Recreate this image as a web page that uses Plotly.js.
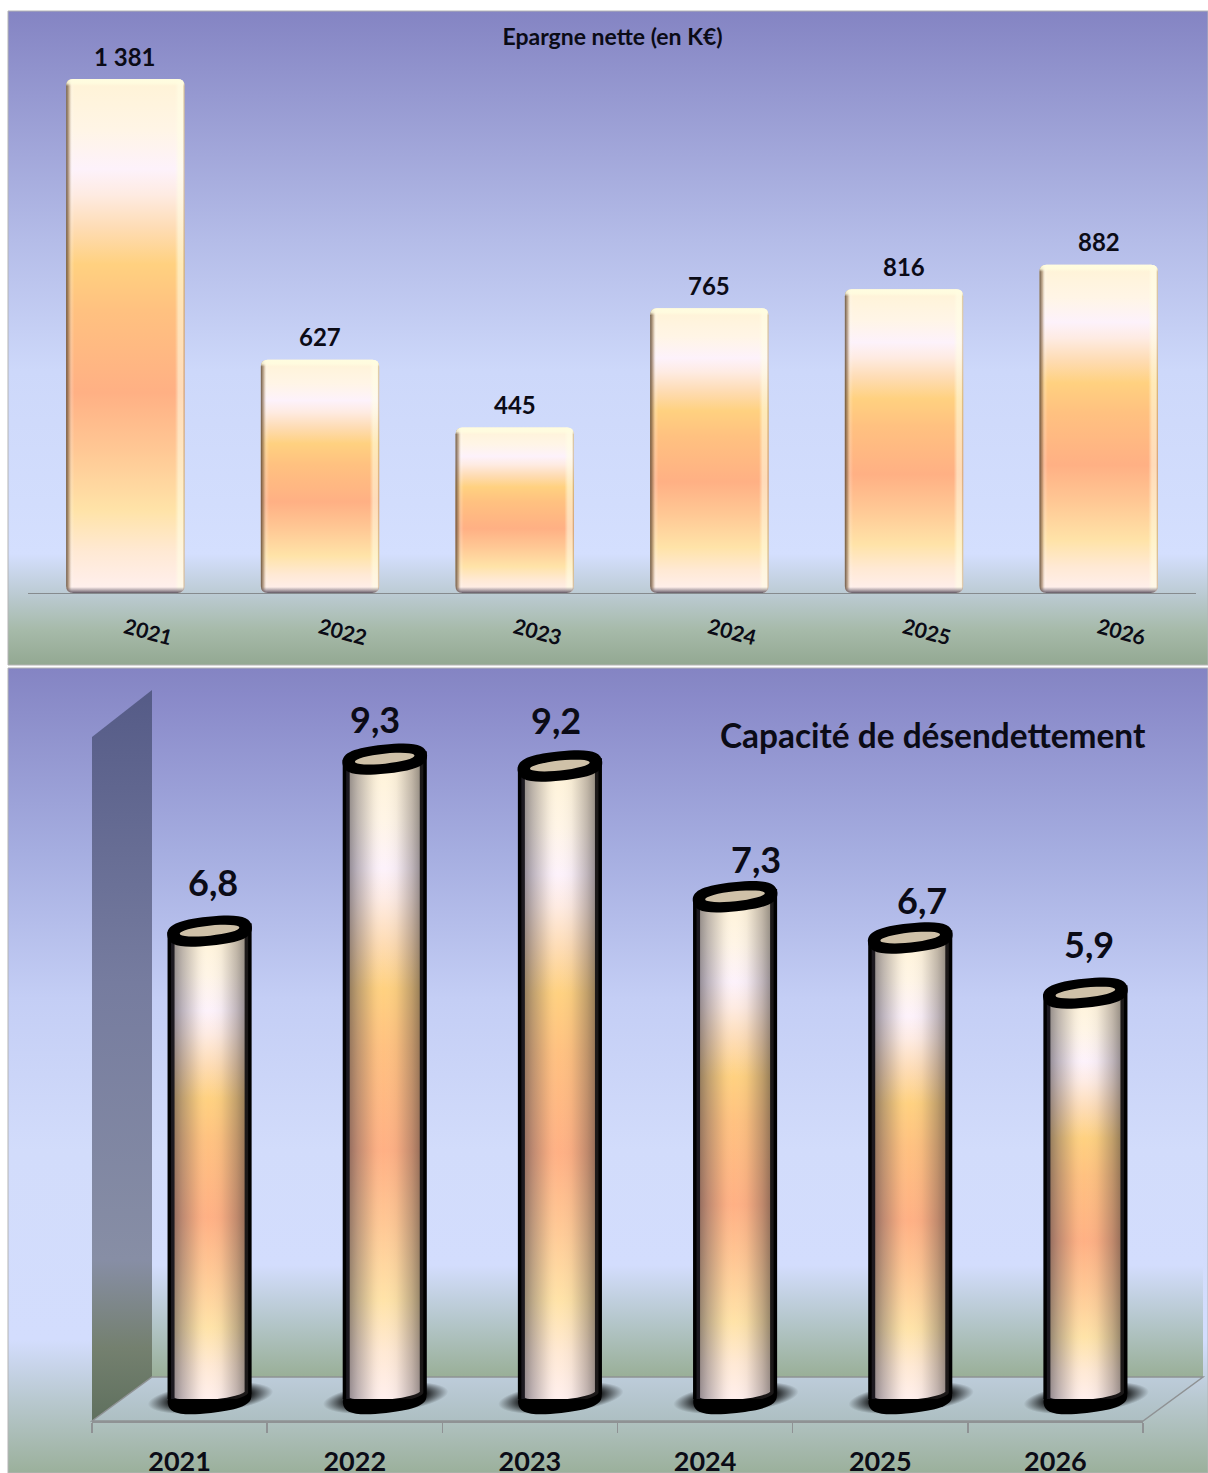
<!DOCTYPE html>
<html lang="fr">
<head>
<meta charset="utf-8">
<title>Epargne nette et capacité de désendettement</title>
<script src="https://cdn.plot.ly/plotly-3.0.1.min.js"></script>
<style>
  html, body { margin: 0; padding: 0; background: #fff; overflow: hidden; }
  #chart { width: 1208px; height: 1473px; }
</style>
</head>
<body>
<div id="chart"></div>
<script>
// Chart data
const years = ['2021', '2022', '2023', '2024', '2025', '2026'];
const epargneNette = [1381, 627, 445, 765, 816, 882];
const capaciteDesendettement = [6.8, 9.3, 9.2, 7.3, 6.7, 5.9];
const titreEpargne = 'Epargne nette (en K€)';
const titreCapacite = 'Capacité de désendettement';

// Hand placement of the cylinder labels, in pixels from the top of each cylinder
const capaciteLabelDx = [3, -10, -4, 21, 12, 4];
const capaciteLabelDy = [48, 39, 45, 37, 37, 48];

const W = 1208, H = 1473;
const fx = px => px / W;
const fy = px => 1 - px / H;
const FONT = 'Lato, Carlito, sans-serif';
const INK = '#0b0b16';
const poly = pts => pts.map((p, i) => (i ? 'L' : 'M') + fx(p[0]) + ',' + fy(p[1])).join(' ') + ' Z';
const paperShape = (pts, line) => ({
  type: 'path', xref: 'paper', yref: 'paper', layer: 'below', path: poly(pts),
  fillcolor: '#cccccc', line: line || { width: 0 }
});

// Panels, back wall, side wall and floor of the lower chart
const shapes = [
  paperShape([[8, 11], [1208, 11], [1208, 665], [8, 665]], { color: '#b4b4b4', width: 1 }),
  paperShape([[8, 668], [1208, 668], [1208, 1473], [8, 1473]], { color: '#b4b4b4', width: 1 }),
  paperShape([[152, 690], [1203, 690], [1203, 1377], [152, 1377]]),
  paperShape([[92, 737], [152, 690], [152, 1377], [92, 1421]]),
  paperShape([[92, 1421], [152, 1377], [1203, 1377], [1143, 1421]], { color: '#8f9294', width: 1.5 })
];
const shapeFills = ['bgTop', 'bgBottom', 'bgWall', 'bgSide', 'bgFloor'];

const traces = [
  {
    type: 'bar', x: years, y: epargneNette, width: 0.608, xaxis: 'x', yaxis: 'y',
    marker: { color: '#ffd180', line: { width: 0 } }, hoverinfo: 'skip', cliponaxis: false
  },
  // Carries the tick labels of the floor's front edge
  {
    type: 'scatter', mode: 'none', x: years, y: capaciteDesendettement.map(() => 0),
    xaxis: 'x2', yaxis: 'y2', hoverinfo: 'skip'
  },
  {
    type: 'bar', x: years, y: capaciteDesendettement, width: 0.44, xaxis: 'x3', yaxis: 'y3',
    marker: { color: '#ffd180', line: { color: '#000', width: 7 } }, hoverinfo: 'skip', cliponaxis: false
  }
];

const frNumber = v => String(v).replace(/\B(?=(\d{3})+$)/g, ' ');

const annotations = [];
years.forEach((yr, i) => {
  annotations.push({
    xref: 'x', yref: 'y', x: i, y: epargneNette[i], text: frNumber(epargneNette[i]),
    showarrow: false, yanchor: 'middle', yshift: 23,
    font: { family: FONT, size: 24, weight: 700, color: INK }
  });
  annotations.push({
    xref: 'x3', yref: 'y3', x: i, y: capaciteDesendettement[i],
    text: String(capaciteDesendettement[i]).replace('.', ','),
    showarrow: false, yanchor: 'middle', xshift: capaciteLabelDx[i], yshift: capaciteLabelDy[i] + 1,
    font: { family: FONT, size: 36, weight: 700, color: INK }
  });
});
annotations.push({
  xref: 'paper', yref: 'paper', x: fx(933), y: fy(735), text: titreCapacite, showarrow: false,
  xanchor: 'center', yanchor: 'middle', font: { family: FONT, size: 33.4, weight: 700, color: INK }
});

const layout = {
  width: W, height: H,
  margin: { l: 0, r: 0, t: 0, b: 0, pad: 0 },
  paper_bgcolor: '#ffffff', plot_bgcolor: 'rgba(0,0,0,0)',
  showlegend: false, hovermode: false, barmode: 'overlay',
  title: {
    text: titreEpargne, x: fx(612.5), y: fy(37), xanchor: 'center', yanchor: 'middle',
    xref: 'paper', yref: 'paper', font: { family: FONT, size: 23, weight: 700, color: INK }
  },
  xaxis: {
    type: 'category', domain: [fx(28), fx(1196)], range: [-0.5, 5.5], anchor: 'y',
    showline: true, linecolor: '#868b8e', linewidth: 1, showgrid: false, zeroline: false,
    ticks: '', tickangle: 15, ticklabelstandoff: 14,
    tickfont: { family: FONT, size: 21, weight: 700, color: INK }
  },
  yaxis: {
    domain: [fy(593), fy(11)], range: [0, 1564], anchor: 'x', visible: false, fixedrange: true
  },
  xaxis2: {
    type: 'category', domain: [fx(92), fx(1143)], range: [-0.5, 5.5], anchor: 'y2',
    showline: true, linecolor: '#8f9294', linewidth: 1.5, showgrid: false, zeroline: false,
    ticks: 'outside', tickson: 'boundaries', ticklen: 10, tickwidth: 1.5, tickcolor: '#8f9294',
    ticklabelstandoff: 16,
    tickfont: { family: FONT, size: 27, weight: 700, color: INK }
  },
  yaxis2: { domain: [fy(1421), fy(1377)], range: [0, 1], anchor: 'x2', visible: false },
  xaxis3: {
    type: 'category', domain: [fx(122), fx(1173)], range: [-0.5, 5.5], anchor: 'y3', visible: false
  },
  yaxis3: { domain: [fy(1399), fy(668)], range: [0, 10.625], anchor: 'x3', visible: false },
  shapes, annotations
};

const SVGNS = 'http://www.w3.org/2000/svg';
const el = (name, attrs) => {
  const n = document.createElementNS(SVGNS, name);
  Object.entries(attrs || {}).forEach(([k, v]) => n.setAttribute(k, v));
  return n;
};

// Adds a gradient; stops are [offset, colour, optional opacity]
function addGradient(defs, id, kind, stops) {
  const g = el(kind === 'radial' ? 'radialGradient' : 'linearGradient', Object.assign(
    { id },
    kind === 'h' ? { x1: 0, y1: 0, x2: 1, y2: 0 } : kind === 'v' ? { x1: 0, y1: 0, x2: 0, y2: 1 } : {}
  ));
  stops.forEach(s => {
    const a = { offset: s[0], 'stop-color': s[1] };
    if (s[2] !== undefined) a['stop-opacity'] = s[2];
    g.appendChild(el('stop', a));
  });
  defs.appendChild(g);
}

const columnStops = [
  [0, '#fff3d6'], [0.1, '#fff5e6'], [0.175, '#fdf2fb'], [0.225, '#feebe2'], [0.29, '#fedcb4'],
  [0.36, '#ffd180'], [0.45, '#ffc180'], [0.61, '#ffb084'], [0.72, '#ffc794'], [0.84, '#ffe3a8'],
  [0.92, '#ffe9d4'], [1, '#fff0f0']
];

function defineGradients(defs) {
  addGradient(defs, 'bgTop', 'v', [
    [0, '#8484c3'], [0.35, '#b4bce8'], [0.55, '#cdd8fa'], [0.83, '#d4dffe'],
    [0.89, '#bccbd4'], [0.947, '#a6baa9'], [1, '#93a892']
  ]);
  addGradient(defs, 'bgBottom', 'v', [
    [0, '#8484c3'], [0.226, '#a5ade0'], [0.41, '#c4cef5'], [0.6, '#d2dcfb'], [0.835, '#d3ddfd'],
    [0.91, '#b8c8cf'], [1, '#9bb09b']
  ]);
  addGradient(defs, 'bgWall', 'v', [
    [0, '#8888c8'], [0.233, '#a5ade0'], [0.45, '#c4cef5'], [0.67, '#d2dcfb'], [0.837, '#d3ddfd'],
    [0.917, '#b5c7cc'], [1, '#99af97']
  ]);
  addGradient(defs, 'bgSide', 'v', [
    [0, '#555b87'], [0.4, '#767c9f'], [0.78, '#878ea5'], [0.9, '#74806f'], [1, '#5f705e']
  ]);
  addGradient(defs, 'bgFloor', 'v', [[0, '#bdccda'], [1, '#adbfc2']]);
  addGradient(defs, 'column', 'v', columnStops);
  addGradient(defs, 'barSides', 'h', [
    [0, '#5a4632', 0.9], [0.025, '#96785a', 0.55], [0.05, '#ffffff', 0.15], [0.07, '#ffffff', 0],
    [0.92, '#ffffe6', 0], [0.95, '#ffffe6', 0.55], [0.985, '#ffffe6', 0.55], [1, '#aa8246', 0.6]
  ]);
  addGradient(defs, 'cylSides', 'h', [
    [0, '#2e2a36', 0.58], [0.15, '#4a4450', 0.36], [0.35, '#5a5050', 0.08], [0.48, '#ffffff', 0],
    [0.65, '#5a5050', 0.06], [0.85, '#4a4040', 0.34], [1, '#2e2a2a', 0.58]
  ]);
  addGradient(defs, 'shadow', 'radial', [[0, '#000', 0.95], [0.62, '#000', 0.9], [1, '#000', 0]]);
}

function roundBars(gd, defs) {
  gd.querySelectorAll('.subplot.xy .barlayer .point path').forEach((p, i) => {
    const b = p.getBBox(), r = 7;
    const x0 = b.x, x1 = b.x + b.width, y0 = b.y, y1 = b.y + b.height;
    p.setAttribute('d',
      `M${x0 + r},${y0} H${x1 - r} Q${x1},${y0} ${x1},${y0 + r} V${y1 - r} Q${x1},${y1} ${x1 - r},${y1} ` +
      `H${x0 + r} Q${x0},${y1} ${x0},${y1 - r} V${y0 + r} Q${x0},${y0} ${x0 + r},${y0} Z`);
    p.style.fill = 'url(#column)';

    const sides = p.cloneNode();
    sides.style.fill = 'url(#barSides)';
    p.parentNode.appendChild(sides);

    // Bevel along the top and bottom edges, a fixed number of pixels whatever the height
    const id = 'barEnds' + i, h = b.height;
    addGradient(defs, id, 'v', [
      [0, '#fffde0', 1], [4 / h, '#fffde0', 0.8], [7 / h, '#fffde0', 0],
      [1 - 6 / h, '#6e6470', 0], [1 - 3 / h, '#6e6470', 0.5], [1, '#5a505c', 0.95]
    ]);
    const ends = p.cloneNode();
    ends.style.fill = `url(#${id})`;
    p.parentNode.appendChild(ends);
  });
}

// Squarer than an ellipse: the thick rim of a cylinder end
function rimPath(cx, cy, rx, ry) {
  const k = 0.72, kx = k * rx, ky = k * ry;
  return `M${cx - rx},${cy} C${cx - rx},${cy - ky} ${cx - kx},${cy - ry} ${cx},${cy - ry} ` +
    `C${cx + kx},${cy - ry} ${cx + rx},${cy - ky} ${cx + rx},${cy} ` +
    `C${cx + rx},${cy + ky} ${cx + kx},${cy + ry} ${cx},${cy + ry} ` +
    `C${cx - kx},${cy + ry} ${cx - rx},${cy + ky} ${cx - rx},${cy} Z`;
}

function shapeCylinders(gd) {
  const tilt = -6;
  const rotate = (cx, cy) => `rotate(${tilt} ${cx} ${cy})`;
  gd.querySelectorAll('.subplot.x3y3 .barlayer .point path').forEach(p => {
    const b = p.getBBox();
    const x0 = b.x, x1 = b.x + b.width, y0 = b.y, y1 = b.y + b.height;
    const cx = (x0 + x1) / 2, half = b.width / 2;
    const group = p.parentNode;

    const shadow = el('ellipse', { cx: cx + 1, cy: y1 - 1, rx: 63, ry: 15, transform: rotate(cx, y1), fill: 'url(#shadow)' });
    const base = el('path', { d: rimPath(cx, y1, 42, 14), transform: rotate(cx, y1), fill: '#000' });
    group.insertBefore(shadow, p);
    group.insertBefore(base, p);

    p.setAttribute('d',
      `M${x0},${y0 + 4} L${x0},${y1} A${half + 0.3},8 -4.4 0 0 ${x1},${y1 - 6} L${x1},${y0 - 4} Z`);
    p.style.fill = 'url(#column)';

    const sides = p.cloneNode();
    sides.style.fill = 'url(#cylSides)';
    sides.style.strokeWidth = '0';
    group.appendChild(sides);

    group.appendChild(el('path', { d: rimPath(cx, y0, 42.5, 14.5), transform: rotate(cx, y0), fill: '#000' }));
    group.appendChild(el('ellipse', { cx, cy: y0 - 0.5, rx: 30, ry: 5, transform: rotate(cx, y0), fill: '#cfc1a8' }));
  });
}

const gd = document.getElementById('chart');
Plotly.newPlot(gd, traces, layout, { staticPlot: true, displayModeBar: false }).then(() => {
  const defs = el('defs');
  gd.querySelector('.main-svg').appendChild(defs);
  defineGradients(defs);

  gd.querySelectorAll('.layer-below .shapelayer path').forEach(p => {
    const i = +p.getAttribute('data-index');
    p.style.fill = `url(#${shapeFills[i]})`;
    p.style.fillOpacity = '1';
    p.style.opacity = '1';
  });
  roundBars(gd, defs);
  shapeCylinders(gd);
});
</script>
</body>
</html>
